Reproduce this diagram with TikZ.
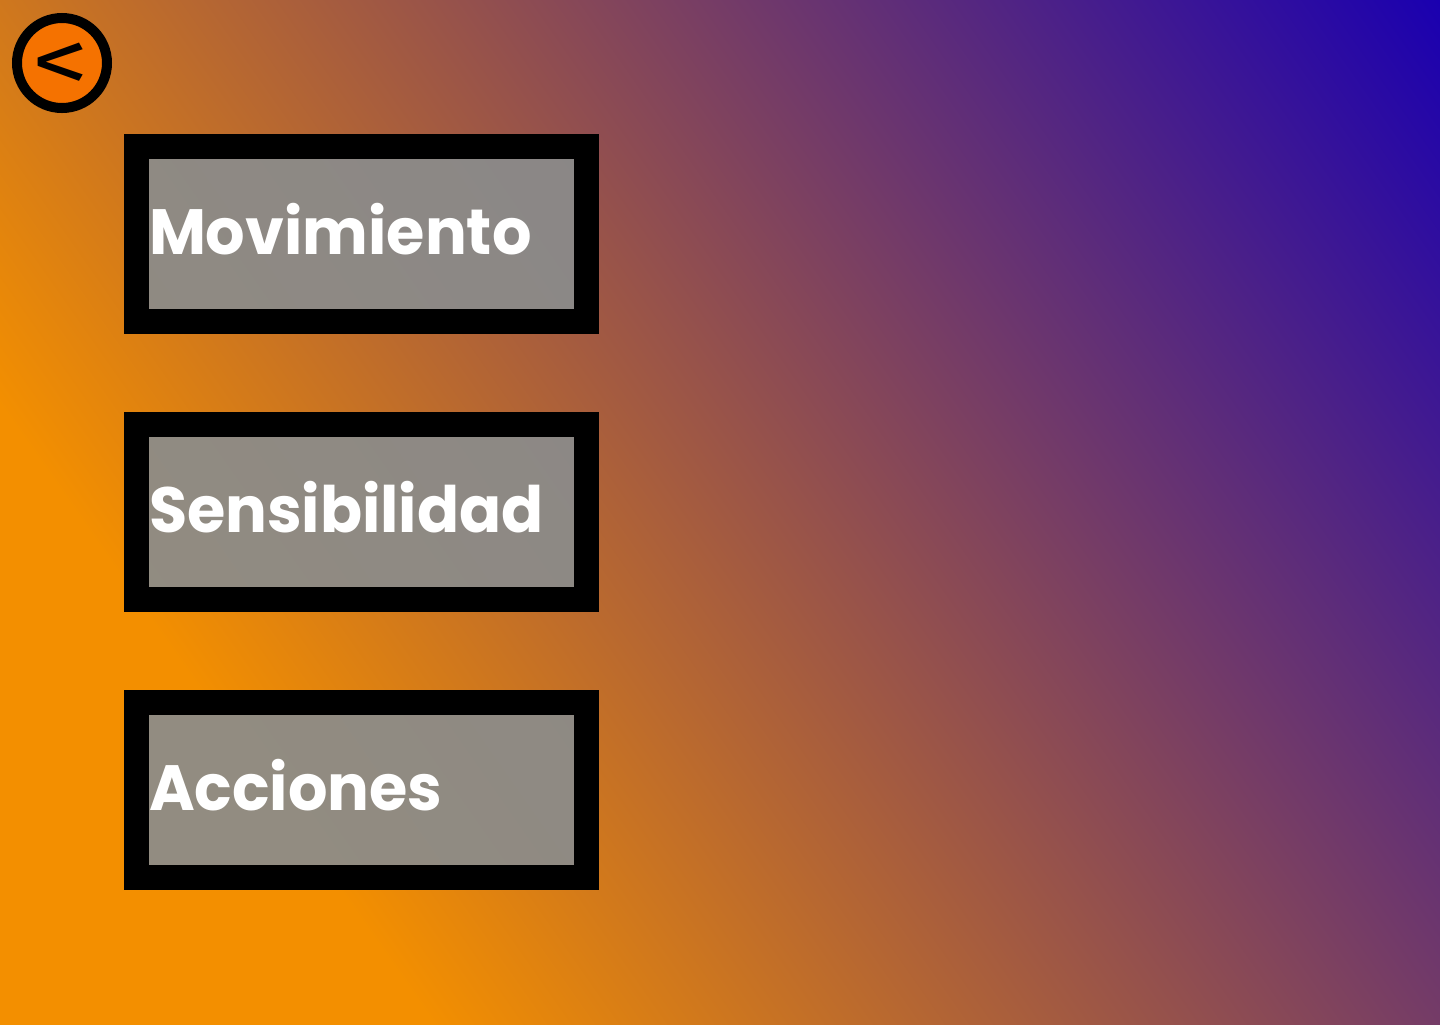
\documentclass[tikz,border=0pt]{standalone}
\usepackage{fontspec}
\setmainfont[BoldFont={Poppins Bold},BoldFeatures={FakeStretch=0.97}]{Poppins}
\newfontfamily\backfont[FakeStretch=1.28]{Fira Sans}
\usetikzlibrary{positioning,shapes}
\definecolor{menuorange}{RGB}{243,143,0}
\definecolor{menublue}{RGB}{26,0,176}
\definecolor{menugrey}{RGB}{138,140,140}
\definecolor{backorange}{RGB}{245,114,0}
\pgfdeclarehorizontalshading{menugrad}{100bp}{color(0bp)=(menuorange); color(35bp)=(menuorange);
                color(75bp)=(menublue); color(100bp)=(menublue)}

\begin{document}
\begin{tikzpicture}[x=0.5pt,y=-0.5pt,
                menubox/.style={rectangle,draw=black,fill=menugrey,fill opacity=0.92,text opacity=1,
                            line width=12.5pt,minimum width=225pt,minimum height=87.5pt,
                            text width=212.5pt,inner xsep=0pt,inner ysep=0pt,
                            text height=20pt,text depth=0pt,align=left,
                            text=white,font=\fontsize{32}{32}\selectfont\bfseries},
                backbtn/.style={circle,draw=black,fill=backorange,line width=5pt,
                            minimum size=45pt,inner sep=0pt,font=\fontsize{44}{44}\backfont}]
                \useasboundingbox (0,0) rectangle (1440,1024);
                \clip (0,0) rectangle (1440,1024);
                \node[rectangle,shading=menugrad,shading angle=35,minimum size=883.5pt,
                      inner sep=0pt] (sky) at (720,512) {};
                \node[backbtn] (back) at (62,63) {\smash{\makebox[0pt]{\raisebox{-14pt}{<}\hspace{1.5pt}}}};
                \node[menubox] (mov)  at (361.5,234) {Movimiento};
                \node[menubox] (sens) at (361.5,512) {Sensibilidad};
                \node[menubox] (acc)  at (361.5,790) {Acciones};
            \end{tikzpicture}
\end{document}
